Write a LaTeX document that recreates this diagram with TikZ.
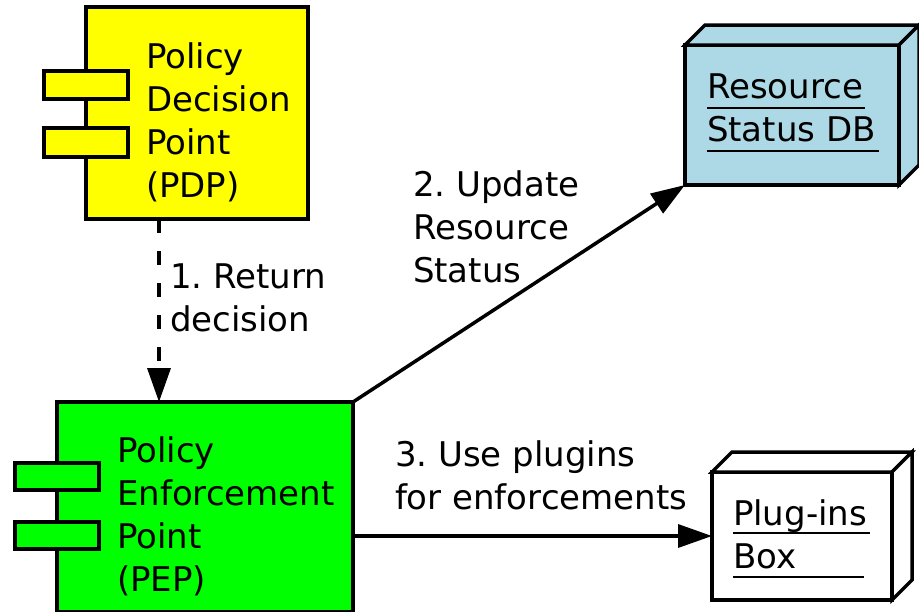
\documentclass[tikz,border=0pt]{standalone}
\usepackage{fontspec}
\setmainfont{DejaVu Sans}
\usetikzlibrary{arrows.meta,calc}
\frenchspacing

\definecolor{pdpyellow}{HTML}{FFFF00}
\definecolor{pepgreen}{HTML}{00FF00}
\definecolor{dbblue}{HTML}{ADD8E6}

\tikzset{
  px/.style={x=1pt,y=-1pt},
  boxline/.style={draw=black,line width=3.5pt,line join=miter},
  facebox/.style={boxline,rectangle,inner sep=0pt,outer sep=0pt},
  % multi-line labels: placed by the baseline of their last line
  lbl/.style={inner sep=0pt,outer sep=0pt,align=left,anchor=base west,
    font=\fontsize{34pt}{43pt}\selectfont},
  uline/.style={line width=2.5pt},
  flow/.style={line width=3.5pt,-{Triangle[length=34pt,width=23pt]}},
  dashflow/.style={flow,dash pattern=on 14pt off 18pt},
}

\begin{document}
\begin{tikzpicture}[px]
\useasboundingbox (0,0) rectangle (919,611);

% ---- Policy Decision Point (component) ----
\node[facebox,fill=pdpyellow,anchor=north west,minimum width=222pt,minimum height=212pt] (pdp) at (86,7) {};
\draw[boxline,fill=pdpyellow] (44,71) rectangle (128,99);
\draw[boxline,fill=pdpyellow] (44,128) rectangle (128,157);
\node[lbl] (pdptxt) at (146,197) {Policy\\Decision\\Point\\(PDP)};

% ---- Policy Enforcement Point (component) ----
\node[facebox,fill=pepgreen,anchor=north west,minimum width=296pt,minimum height=210pt] (pep) at (57,402) {};
\draw[boxline,fill=pepgreen] (15,463) rectangle (99,490);
\draw[boxline,fill=pepgreen] (15,522) rectangle (99,549);
\node[lbl] (peptxt) at (117,591) {Policy\\Enforcement\\Point\\(PEP)};

% ---- Resource Status DB (node, 3D box) ----
\node[facebox,fill=dbblue,anchor=north west,minimum width=214pt,minimum height=140pt] (db) at (685,45) {};
\draw[boxline,fill=dbblue] (db.north west) -- ++(20,-20) -- ++(214,0) -- (db.north east) -- cycle;
\draw[boxline,fill=dbblue] (db.north east) -- ++(20,-20) -- ++(0,140) -- (db.south east) -- cycle;
\node[lbl] (dbtxt) at (707,141) {Resource\\Status DB};
\draw[uline] (707,108) -- (865,108);
\draw[uline] (707,151) -- (879,151);

% ---- Plug-ins Box (node, 3D box) ----
\node[facebox,fill=white,anchor=north west,minimum width=180pt,minimum height=128pt] (plug) at (712,472) {};
\draw[boxline,fill=white] (plug.north west) -- ++(20,-20) -- ++(180,0) -- (plug.north east) -- cycle;
\draw[boxline,fill=white] (plug.north east) -- ++(20,-20) -- ++(0,128) -- (plug.south east) -- cycle;
\node[lbl] (plugtxt) at (733,568) {Plug-ins\\Box};
\draw[uline] (733,533) -- (870,533);
\draw[uline] (733,577) -- (864,577);

% ---- connectors ----
\coordinate (ret) at ([xshift=73pt]pdp.south west);
\draw[dashflow] (ret) -- (ret |- pep.north);
\node[lbl] (l1) at (170,331) {1. Return\\decision};

\draw[flow] (pep.north east) -- (db.south west);
\node[lbl] (l2) at (413,282) {2. Update\\Resource\\Status};

\draw[flow] (pep.east |- plug.west) -- (plug.west);
\node[lbl] (l3) at (395,509) {3. Use plugins\\for enforcements};
\end{tikzpicture}
\end{document}
